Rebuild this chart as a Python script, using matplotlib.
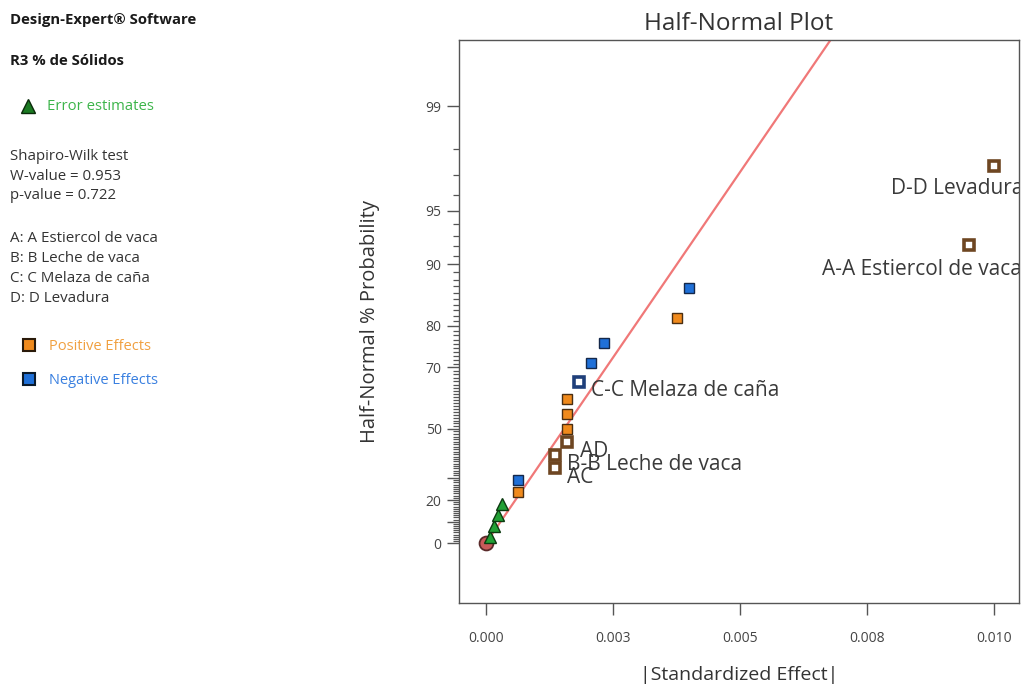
import math
import numpy as np
import matplotlib
matplotlib.use("Agg")
import matplotlib.pyplot as plt
from matplotlib.ticker import FixedLocator, NullFormatter

plt.rcParams['font.family'] = ['Open Sans', 'DejaVu Sans']

# ---- data -------------------------------------------------------------
effects = [0.00007, 0.00015, 0.00024, 0.00032, 0.00063, 0.00063, 0.00136,
           0.00136, 0.00159, 0.00159, 0.00159, 0.00159, 0.00183, 0.00207,
           0.00232, 0.00376, 0.00400, 0.00951, 0.01000]
probs = [2.6, 7.9, 13.2, 18.4, 23.7, 28.9, 34.2, 39.5, 44.7, 50.0, 55.3,
         60.5, 65.8, 71.1, 76.3, 81.6, 86.8, 92.1, 97.4]
kinds = ['err', 'err', 'err', 'err', 'pos', 'neg', 'pos_sel', 'pos_sel',
         'pos_sel', 'pos', 'pos', 'pos', 'neg_sel', 'neg', 'neg', 'pos',
         'neg', 'pos_sel', 'pos_sel']
labels = ['', '', '', '', '', '', 'AC', 'B-B Leche de vaca', 'AD', '', '', '',
          'C-C Melaza de caña', '', '', '', '', 'A-A Estiercol de vaca',
          'D-D Levadura']
# label offsets in pixels (dx, dy) relative to the point
label_offsets = {'AC': (12, -10), 'B-B Leche de vaca': (12, -9),
                 'AD': (13, -9), 'C-C Melaza de caña': (12, -9),
                 'A-A Estiercol de vaca': (-147, -24),
                 'D-D Levadura': (-103, -23)}

line_sigma = 0.002285          # scale of the fitted half-normal line
xticks = [0.0, 0.0025, 0.005, 0.0075, 0.01]
xtick_labels = ['0.000', '0.003', '0.005', '0.008', '0.010']
ymajor = [0, 20, 50, 70, 80, 90, 95, 99]
ymedium = [10, 30]

# ---- half-normal probability scale -----------------------------------
_erf = np.vectorize(math.erf, otypes=[float])


def phi(z):
    return 0.5 * (1.0 + _erf(np.asarray(z, float) / math.sqrt(2.0)))


def phi_inv(q):
    q = np.clip(np.asarray(q, float), 1e-12, 1 - 1e-12)
    z = np.zeros_like(q)
    for _ in range(80):
        pdf = np.exp(-z * z / 2.0) / math.sqrt(2 * math.pi)
        z = z - (phi(z) - q) / np.maximum(pdf, 1e-300)
    return z


def fwd(p):
    return phi_inv(0.5 + np.asarray(p, float) / 200.0)


def inv(z):
    return 200.0 * (phi(z) - 0.5)


# ---- figure -----------------------------------------------------------
W, H = 1023, 687
fig = plt.figure(figsize=(W / 100, H / 100), dpi=100)
ax = fig.add_axes([459 / W, 1 - 603 / H, (1019 - 459) / W, (603 - 40) / H])
ax.set_yscale('function', functions=(fwd, inv))
ax.set_xlim(-0.000531, 0.010492)
ax.set_ylim(float(inv(-0.354)), float(inv(2.968)))

# fitted line
xs = np.linspace(0, 0.0105, 300)
ax.plot(xs, inv(xs / line_sigma), color='#f07878', lw=1.6, zorder=2)

# origin marker
ax.plot([0], [0], marker='o', ms=10, mfc='#c85a5a', mec='#5a2a2a', mew=1.3,
        ls='none', zorder=3)

styles = {
    'err': dict(marker='^', ms=8.5, mfc='#22a035', mec='#0c3a10', mew=1.0),
    'pos': dict(marker='s', ms=7.5, mfc='#f08a1c', mec='#4a2e12', mew=1.0),
    'neg': dict(marker='s', ms=7.5, mfc='#1f70d8', mec='#14284a', mew=1.0),
    'pos_sel': dict(marker='s', ms=7.2, mfc='white', mec='#6e4622', mew=2.6),
    'neg_sel': dict(marker='s', ms=7.2, mfc='white', mec='#1f3f7a', mew=2.6),
}
for e, p, k in zip(effects, probs, kinds):
    ax.plot([e], [p], ls='none', zorder=4, **styles[k])

for e, p, lab in zip(effects, probs, labels):
    if lab:
        dx, dy = label_offsets[lab]
        ax.annotate(lab, (e, p), xytext=(dx * 0.72, dy * 0.72),
                    textcoords='offset points', ha='left', va='center',
                    fontsize=15, color='#3a3a3a', annotation_clip=False,
                    clip_on=True, zorder=5)

# ticks
ax.set_xticks(xticks)
ax.set_xticklabels(xtick_labels)
ax.yaxis.set_major_locator(FixedLocator(ymajor + ymedium))
ax.set_yticklabels([str(v) for v in ymajor] + ['' for _ in ymedium])
minor = [v for v in range(1, 99) if v not in ymajor + ymedium]
ax.yaxis.set_minor_locator(FixedLocator(minor))
ax.yaxis.set_minor_formatter(NullFormatter())
ax.tick_params(axis='both', which='major', direction='out', length=8.5,
               width=1.0, color='#555555', labelsize=10,
               labelcolor='#444444')
ax.tick_params(axis='x', which='major', pad=12)
ax.tick_params(axis='y', which='major', pad=4)
ax.tick_params(axis='y', which='minor', direction='out', length=4,
               width=0.9, color='#555555')
for s in ax.spines.values():
    s.set_color('#555555')
    s.set_linewidth(1.0)

ax.set_title('Half-Normal Plot', fontsize=17.5, color='#333333', pad=7)
ax.set_xlabel('|Standardized Effect|', fontsize=14, color='#333333',
              labelpad=14)
ax.set_ylabel('Half-Normal % Probability', fontsize=14.5, color='#333333',
              labelpad=33)

# ---- side panel -------------------------------------------------------
def ftxt(x, y, s, **kw):
    fig.text(x / W, 1 - y / H, s, va='center', ha='left', **kw)


ftxt(10, 20, 'Design-Expert® Software', fontsize=10.7, fontweight='bold',
     color='#1a1a1a')
ftxt(10, 61, 'R3 % de Sólidos', fontsize=10.7, fontweight='bold',
     color='#1a1a1a')
fig.lines.append(plt.Line2D([28 / W], [1 - 106 / H], marker='^', ms=10,
                            mfc='#1b7a22', mec='#0a2a0a', ls='none',
                            transform=fig.transFigure))
ftxt(47, 107, 'Error estimates', fontsize=10.7, color='#3cb44a')
ftxt(10, 156, 'Shapiro-Wilk test', fontsize=10.8, color='#333333')
ftxt(10, 176, 'W-value = 0.953', fontsize=10.8, color='#333333')
ftxt(10, 196, 'p-value = 0.722', fontsize=10.8, color='#333333')
ftxt(10, 238, 'A: A Estiercol de vaca', fontsize=10.9, color='#333333')
ftxt(10, 258, 'B: B Leche de vaca', fontsize=10.9, color='#333333')
ftxt(10, 278, 'C: C Melaza de caña', fontsize=10.9, color='#333333')
ftxt(10, 298, 'D: D Levadura', fontsize=10.9, color='#333333')
fig.lines.append(plt.Line2D([29 / W], [1 - 345 / H], marker='s', ms=9,
                            mfc='#f08a1c', mec='#2a1a0a', mew=1.5, ls='none',
                            transform=fig.transFigure))
ftxt(49, 346, 'Positive Effects', fontsize=10.5, color='#f0a040')
fig.lines.append(plt.Line2D([29 / W], [1 - 379 / H], marker='s', ms=9,
                            mfc='#1f70d8', mec='#0a1a2a', mew=1.5, ls='none',
                            transform=fig.transFigure))
ftxt(49, 380, 'Negative Effects', fontsize=10.5, color='#3a80e0')

fig.savefig('out.png', dpi=100, facecolor='white')
